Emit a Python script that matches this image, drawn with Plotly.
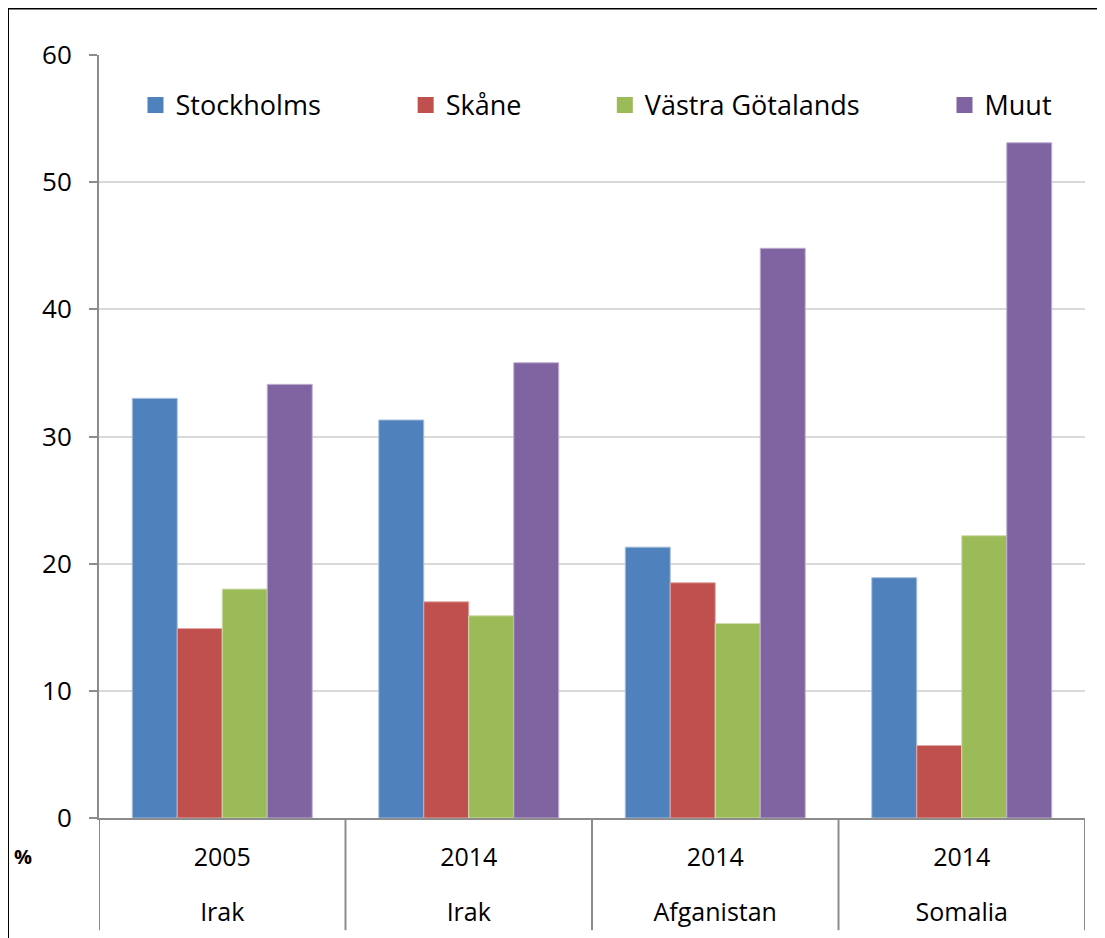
import plotly.graph_objects as go

years = ["2005", "2014", "2014", "2014"]
countries = ["Irak", "Irak", "Afganistan", "Somalia"]
series_names = ["Stockholms", "Skåne", "Västra Götalands", "Muut"]
stockholms = [33.0, 31.3, 21.3, 18.9]
skane = [14.9, 17.0, 18.5, 5.7]
vastra = [18.0, 15.9, 15.3, 22.2]
muut = [34.1, 35.8, 44.8, 53.1]
colors = ["#4F81BD", "#C0504D", "#9BBB59", "#8064A2"]
line_colors = ["#A7C0DE", "#DFA8A6", "#CDDDAC", "#BFB1D0"]

values = [stockholms, skane, vastra, muut]
legend_ids = ["legend", "legend2", "legend3", "legend4"]
legend_x = [0.037, 0.311, 0.513, 0.8575]

FONT = "Open Sans"
fig = go.Figure()
xs = list(range(len(years)))
for name, vals, c, lc in zip(series_names, values, colors, line_colors):
    fig.add_trace(go.Bar(x=xs, y=vals, name=name, showlegend=False,
                         marker=dict(color=c, line=dict(color=lc, width=1))))
# legend entries (square swatches)
for name, c, lg in zip(series_names, colors, legend_ids):
    fig.add_trace(go.Scatter(x=[None], y=[None], mode="markers", name=name, legend=lg,
                             xaxis="x2", marker=dict(symbol="square", size=17, color=c)))

layout_legends = {}
for lg, lx in zip(legend_ids, legend_x):
    layout_legends[lg] = dict(x=lx, y=0.934, xanchor="left", yanchor="middle",
                              orientation="h", bgcolor="rgba(0,0,0,0)",
                              font=dict(family=FONT, size=27, color="black"),
                              itemwidth=30)

fig.update_layout(
    width=1105, height=938,
    margin=dict(l=91, r=28, t=47, b=128),
    paper_bgcolor="white", plot_bgcolor="white",
    barmode="group", bargap=0.27, bargroupgap=0,
    font=dict(family=FONT, size=25, color="black"),
    xaxis=dict(type="linear", tickvals=xs, ticktext=years, range=[-0.5, 3.5],
               showgrid=False, showline=True, linecolor="#8c8c8c", linewidth=2,
               ticks="", tickfont=dict(family=FONT, size=25, color="black"),
               ticklabelstandoff=16, zeroline=False),
    xaxis2=dict(type="linear", overlaying="x", anchor="y", side="bottom",
                tickvals=xs, ticktext=countries, range=[-0.5, 3.5],
                showgrid=False, showline=False, ticks="", zeroline=False,
                tickfont=dict(family=FONT, size=25, color="black"),
                ticklabelstandoff=77),
    yaxis=dict(range=[0, 60], dtick=10, showgrid=True, gridcolor="#d9d9d9", gridwidth=2,
               showline=True, linecolor="#8c8c8c", linewidth=2,
               ticks="outside", ticklen=8, tickcolor="#8c8c8c", tickwidth=2,
               tickfont=dict(family=FONT, size=26, color="black"),
               ticklabelstandoff=12, zeroline=False),
    showlegend=True,
    **layout_legends,
)

# category dividers below the axis
for b in [-0.5, 0.5, 1.5, 2.5, 3.5]:
    fig.add_shape(type="line", xref="x", yref="paper", x0=b, x1=b, y0=0, y1=-0.147,
                  line=dict(color="#8c8c8c", width=2))

# "%" unit label
fig.add_annotation(text="<b>%</b>", xref="paper", yref="paper", x=-0.077, y=-0.051,
                   showarrow=False, font=dict(family=FONT, size=20, color="black"),
                   xanchor="center", yanchor="middle")

# outer frame (left and top)
fig.add_shape(type="line", xref="paper", yref="paper", x0=-0.0923, x1=-0.0923, y0=-0.2, y1=1.0609,
              line=dict(color="black", width=2))
fig.add_shape(type="line", xref="paper", yref="paper", x0=-0.0923, x1=1.04, y0=1.0609, y1=1.0609,
              line=dict(color="black", width=2))

fig.write_html("out.html")
